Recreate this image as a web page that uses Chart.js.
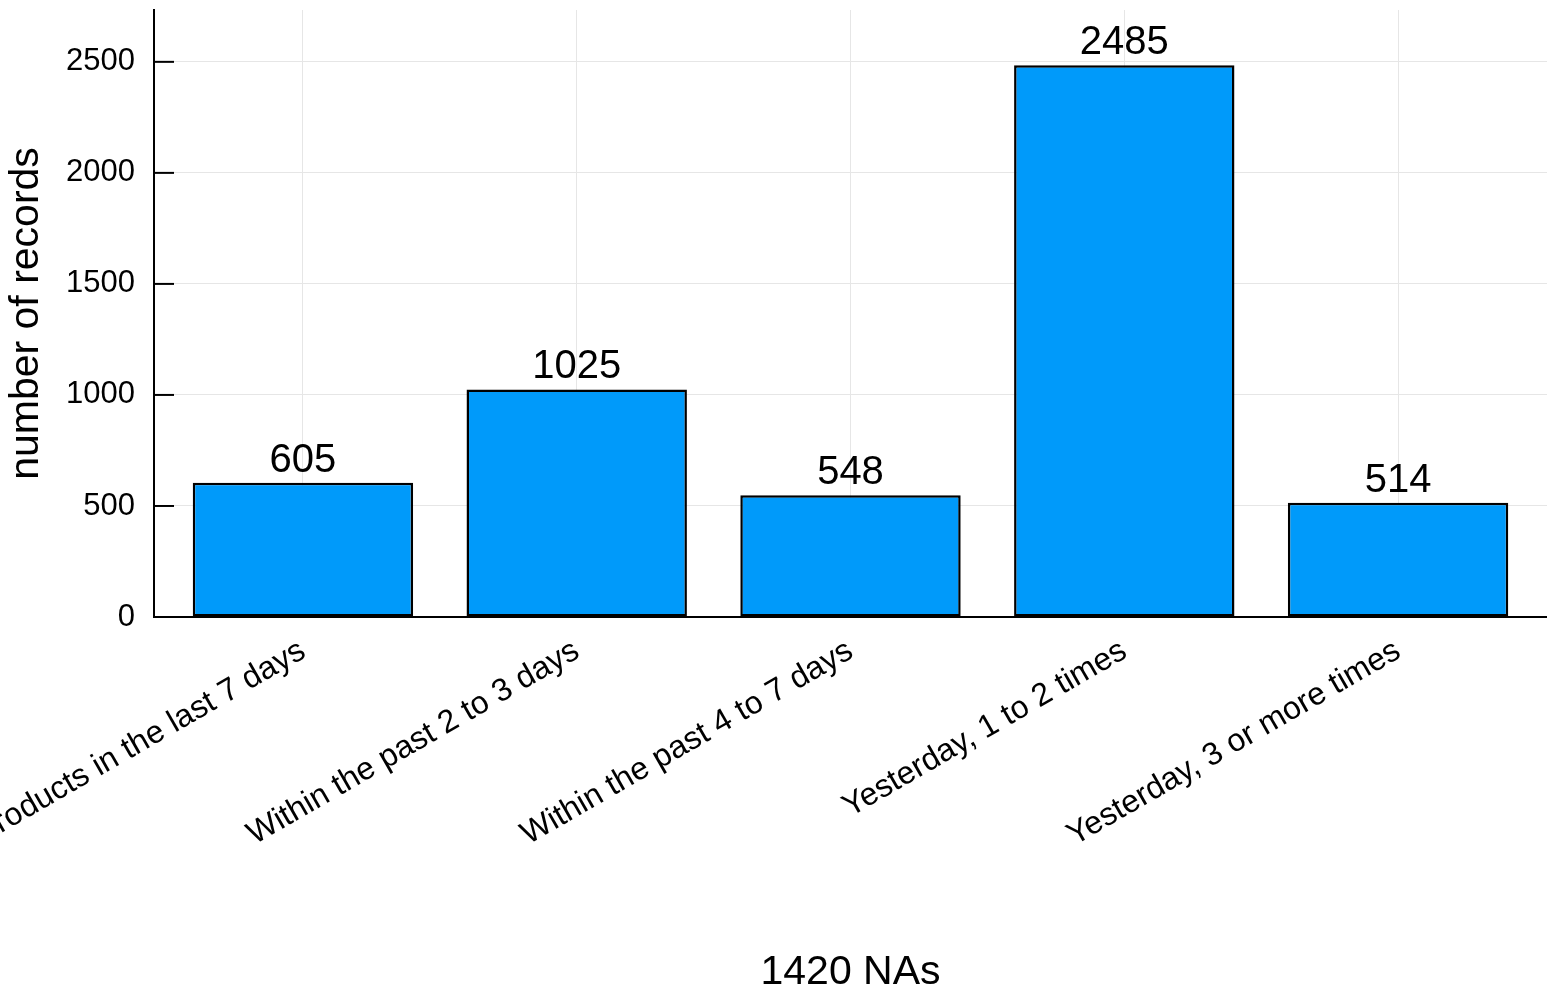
<!DOCTYPE html>
<html>
<head>
<meta charset="utf-8">
<script src="https://cdn.jsdelivr.net/npm/chart.js@4/dist/chart.umd.min.js"></script>
<style>
    html, body { margin: 0; padding: 0; background: #ffffff; overflow: hidden; }
</style>
</head>
<body>
<canvas id="records-chart" width="1547" height="993"></canvas>
<script>
// Data
const categories = [
    'Have not used products in the last 7 days',
    'Within the past 2 to 3 days',
    'Within the past 4 to 7 days',
    'Yesterday, 1 to 2 times',
    'Yesterday, 3 or more times'
];
const recordCounts = [605, 1025, 548, 2485, 514];
const yTickValues = [0, 500, 1000, 1500, 2000, 2500];
const xTitle = '1420 NAs';
const yTitle = 'number of records';

// axis limits (Plots.jl style margins)
const xLimits = [-0.544, 4.544];
const yLimits = [0, 2733.5];

const FONT = '"Liberation Sans", Arial, Helvetica, sans-serif';

// inward tick marks on the y axis + value labels above each bar
const decorations = {
    id: 'decorations',
    afterDatasetsDraw(chart) {
        const ctx = chart.ctx;
        const area = chart.chartArea;
        const y = chart.scales.y;

        ctx.save();
        ctx.strokeStyle = '#000000';
        ctx.lineWidth = 2;
        yTickValues.forEach(v => {
            const py = y.getPixelForValue(v);
            ctx.beginPath();
            ctx.moveTo(area.left, py);
            ctx.lineTo(area.left + 20, py);
            ctx.stroke();
        });

        ctx.fillStyle = '#000000';
        ctx.font = '40px ' + FONT;
        ctx.textAlign = 'center';
        ctx.textBaseline = 'alphabetic';
        const meta = chart.getDatasetMeta(0);
        meta.data.forEach((bar, i) => {
            ctx.fillText(String(recordCounts[i]), bar.x, bar.y - 11);
        });
        ctx.restore();
    }
};

new Chart(document.getElementById('records-chart'), {
    type: 'bar',
    data: {
        datasets: [{
            label: 'records',
            data: recordCounts.map((v, i) => ({ x: i, y: v })),
            backgroundColor: '#009AFA',
            borderColor: '#000000',
            borderWidth: 2.5,
            borderSkipped: false,
            barPercentage: 0.805,
            categoryPercentage: 1.0
        }]
    },
    options: {
        responsive: false,
        animation: false,
        devicePixelRatio: 1,
        layout: { padding: { top: 10, right: 0, left: 0, bottom: 0 } },
        plugins: {
            legend: { display: false },
            tooltip: { enabled: false }
        },
        scales: {
            x: {
                type: 'linear',
                min: xLimits[0],
                max: xLimits[1],
                offset: false,
                afterBuildTicks: scale => {
                    scale.ticks = categories.map((c, i) => ({ value: i }));
                },
                afterFit: scale => {
                    scale.height = 376;
                    scale.paddingLeft = 0;
                    scale.paddingRight = 0;
                },
                ticks: {
                    autoSkip: false,
                    minRotation: 30,
                    maxRotation: 30,
                    padding: 15,
                    color: '#000000',
                    font: { family: FONT, size: 32 },
                    callback: value => categories[value]
                },
                grid: {
                    offset: false,
                    color: '#e6e6e6',
                    lineWidth: 1,
                    drawTicks: false
                },
                border: { display: true, color: '#000000', width: 2 },
                title: {
                    display: true,
                    text: xTitle,
                    color: '#000000',
                    font: { family: FONT, size: 41, lineHeight: 1 },
                    padding: { top: 0, bottom: 0 }
                }
            },
            y: {
                min: yLimits[0],
                max: yLimits[1],
                afterBuildTicks: scale => {
                    scale.ticks = yTickValues.map(v => ({ value: v }));
                },
                afterFit: scale => {
                    scale.width = 154;
                    scale.paddingTop = 0;
                    scale.paddingBottom = 0;
                },
                ticks: {
                    padding: 19,
                    color: '#000000',
                    font: { family: FONT, size: 31 },
                    callback: value => String(value)
                },
                grid: {
                    color: '#e6e6e6',
                    lineWidth: 1,
                    drawTicks: false
                },
                border: { display: true, color: '#000000', width: 2 },
                title: {
                    display: true,
                    text: yTitle,
                    color: '#000000',
                    font: { family: FONT, size: 41, lineHeight: 1 },
                    padding: { top: 6, bottom: 0 }
                }
            }
        }
    },
    plugins: [decorations]
});
</script>
</body>
</html>
